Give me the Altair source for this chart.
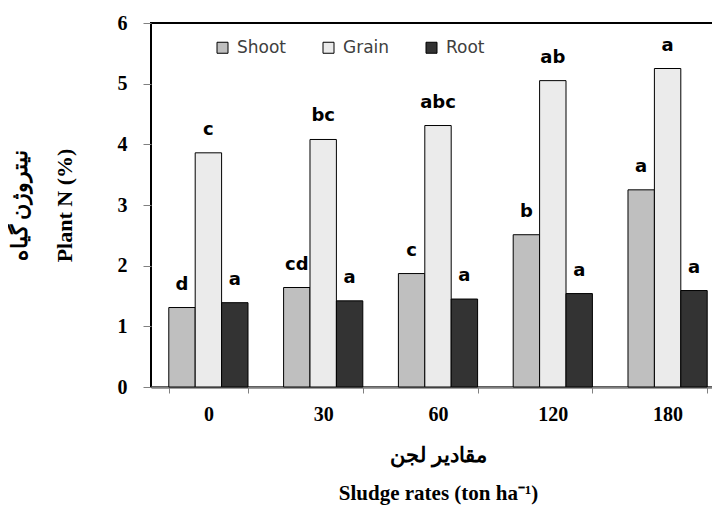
import altair as alt
import pandas as pd

rates = ["0", "30", "60", "120", "180"]
parts = ["Shoot", "Grain", "Root"]
shoot = [1.31, 1.64, 1.87, 2.51, 3.25]
grain = [3.86, 4.08, 4.31, 5.05, 5.25]
root = [1.39, 1.42, 1.45, 1.54, 1.59]
shoot_letters = ["d", "cd", "c", "b", "a"]
grain_letters = ["c", "bc", "abc", "ab", "a"]
root_letters = ["a", "a", "a", "a", "a"]
part_colors = ["#bfbfbf", "#ebebeb", "#333333"]

rows = []
for part, vals, lets in [("Shoot", shoot, shoot_letters),
                         ("Grain", grain, grain_letters),
                         ("Root", root, root_letters)]:
    for r, v, l in zip(rates, vals, lets):
        rows.append({"Rate": r, "Part": part, "Value": v, "Letter": l})
df = pd.DataFrame(rows)

x_enc = alt.X(
    "Rate:N", sort=rates,
    scale=alt.Scale(paddingInner=0.31, paddingOuter=0.155),
    axis=alt.Axis(
        title=["مقادیر لجن", "Sludge rates (ton ha⁻¹)"],
        labelAngle=0, tickBand="extent", tickSize=6, tickColor="#808080",
        labelFont="Liberation Serif", labelFontWeight="bold", labelFontSize=20,
        labelColor="#000000", labelPadding=11,
        domainColor="#7f7f7f", domainWidth=2.5,
        titleFont="Liberation Serif", titleFontWeight="bold", titleFontSize=21,
        titleColor="#000000", titlePadding=20, titleLineHeight=38,
    ),
)
xo_enc = alt.XOffset("Part:N", sort=parts,
                     scale=alt.Scale(paddingInner=0, paddingOuter=0))
y_enc = alt.Y(
    "Value:Q",
    scale=alt.Scale(domain=[0, 6], nice=False),
    axis=alt.Axis(
        title=["نیتروژن گیاه", "Plant N (%)"],
        values=[0, 1, 2, 3, 4, 5, 6], grid=False, domain=False,
        tickSize=8, tickColor="#808080", labelPadding=16,
        labelFont="Liberation Serif", labelFontWeight="bold", labelFontSize=20,
        labelColor="#000000",
        titleFont="Liberation Serif", titleFontWeight="bold", titleFontSize=22,
        titleColor="#000000", titlePadding=41, titleLineHeight=45,
    ),
)

bars = alt.Chart(df).mark_bar(stroke="#000000", strokeWidth=1).encode(
    x=x_enc, xOffset=xo_enc, y=y_enc,
    color=alt.Color(
        "Part:N",
        scale=alt.Scale(domain=parts, range=part_colors),
        legend=alt.Legend(
            title=None, orient="none", legendX=63, legendY=16,
            direction="horizontal", symbolType="square", symbolSize=121,
            symbolStrokeColor="#000000", symbolStrokeWidth=1,
            labelFont="DejaVu Sans", labelFontSize=17, labelColor="#404040",
            labelOffset=6, columnPadding=33,
        ),
    ),
)

letters = alt.Chart(df).mark_text(
    dy=-18, baseline="alphabetic", font="DejaVu Sans", fontWeight="bold",
    fontSize=18, color="#000000",
).encode(x=x_enc, xOffset=xo_enc, y=y_enc, text="Letter:N")

chart = alt.layer(bars, letters).properties(
    width=574, height=364,
    autosize="none",
    padding={"left": 143, "top": 15, "right": -13, "bottom": 118},
).configure_view(stroke="#000000", strokeWidth=2)

chart.save("out.html", embed_options={"renderer": "svg", "actions": False})
